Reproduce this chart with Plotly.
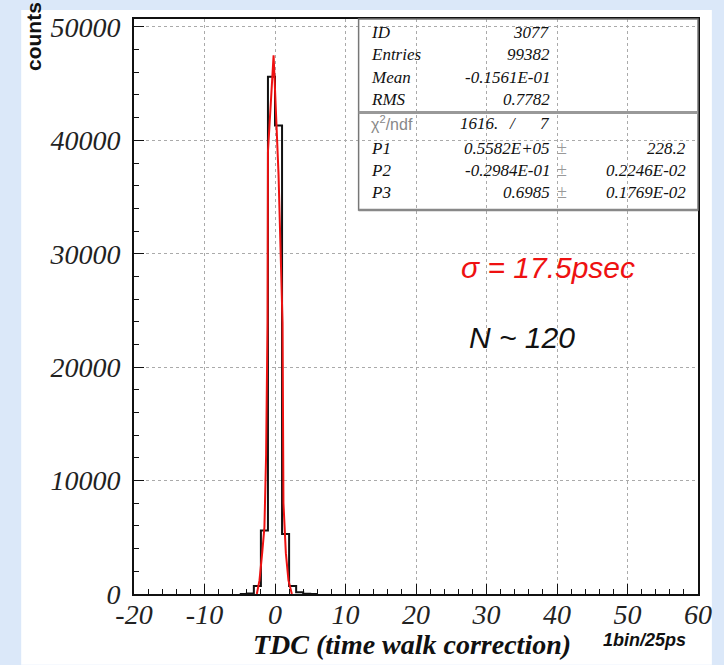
import plotly.graph_objects as go

# ---- histogram (1 bin = 25 ps) ----
bin_edges = [-5, -4, -3, -2, -1, 0, 1, 2, 3, 4, 5, 6]
bin_counts = [0, 50, 700, 5600, 45600, 41300, 5300, 700, 150, 30, 0]

# ---- fitted gaussian as drawn ----
fit_x = [-2.58, -2.2, -1.82, -1.5, -1.26, -1.06, -1.0, -0.2, 0.5, 1.07, 1.2, 1.54, 1.91, 2.39]
fit_y = [0, 1200, 3600, 5900, 12300, 23900, 39000, 47500, 37000, 23900, 8000, 3600, 1200, 0]

# ---- axis ticks ----
x_ticks = [-20, -10, 0, 10, 20, 30, 40, 50, 60]
x_tick_text = ["-20", "-10", "0", "10", "20", "30", "40", "50", "60"]
y_ticks = [0, 10000, 20000, 30000, 40000, 50000]
y_tick_text = ["0", "10000", "20000", "30000", "40000", "50000"]

# ---- statistics box ----
stat_labels = ["ID", "Entries", "Mean", "RMS"]
stat_values = ["3077", "99382", "-0.1561E-01", "0.7782"]
chi2_value = "1616."
ndf_value = "7"
fit_labels = ["P1", "P2", "P3"]
fit_values = ["0.5582E+05", "-0.2984E-01", "0.6985"]
fit_errors = ["228.2", "0.2246E-02", "0.1769E-02"]

W, H = 724, 665
ML, MR, MT, MB = 134, 20, 16, 71
PW, PH = W - ML - MR, H - MT - MB


def px(x):
    return (x - ML) / PW


def py(y):
    return (H - MB - y) / PH


serif = "Liberation Serif"
sans = "Liberation Sans"

fig = go.Figure()

step_y = bin_counts + [bin_counts[-1]]
fig.add_trace(go.Scatter(x=bin_edges, y=step_y, mode="lines", line_shape="hv",
                         line=dict(color="#111111", width=2), hoverinfo="skip"))
fig.add_trace(go.Scatter(x=fit_x, y=fit_y, mode="lines",
                         line=dict(color="#ee1111", width=2), hoverinfo="skip"))

shapes = [
    # white slide panel
    dict(type="rect", xref="paper", yref="paper", x0=px(20), x1=px(718), y0=py(665), y1=py(7),
         fillcolor="white", line=dict(width=0), layer="below"),
    # statistics box
    dict(type="rect", xref="paper", yref="paper", x0=px(361), x1=1.0, y0=py(208), y1=1.0,
         fillcolor="rgba(0,0,0,0)", line=dict(color="#777777", width=1.5)),
    dict(type="line", xref="paper", yref="paper", x0=px(361), x1=1.0, y0=py(208), y1=py(208),
         line=dict(color="#888888", width=2.5)),
    dict(type="line", xref="paper", yref="paper", x0=px(361), x1=1.0, y0=py(110), y1=py(110),
         line=dict(color="#999999", width=3)),
]

ann = []


def text(x, y, s, anchor="left", size=17, color="#111111", family=serif, style="italic", weight="normal", angle=0):
    ann.append(dict(x=px(x), y=py(y), xref="paper", yref="paper", text=s, showarrow=False,
                    xanchor=anchor, yanchor="middle", textangle=angle,
                    font=dict(family=family, size=size, color=color, style=style, weight=weight)))


rows = [30, 52, 75, 97]
for lab, val, yy in zip(stat_labels, stat_values, rows):
    text(372, yy, lab)
    text(556, yy, val, anchor="right")

text(372, 121, "χ<sup>2</sup>/ndf", color="#888888", family=sans, style="normal", size=16)
text(461, 121, chi2_value)
text(517, 121, "/", anchor="center")
text(556, 121, ndf_value, anchor="right")

for lab, val, err, yy in zip(fit_labels, fit_values, fit_errors, [146, 168, 190]):
    text(372, yy, lab)
    text(556, yy, val, anchor="right")
    text(567, yy, "±", anchor="center", color="#999999", style="normal", size=18)
    text(694, yy, err, anchor="right")

text(462, 266, "σ = 17.5psec", color="#ee1111", family=sans, size=30)
text(471, 336, "N ~ 120", color="#111111", family=sans, size=30)
text(415, 645, "TDC (time walk correction)", anchor="center", size=28, weight="bold")
text(650, 640, "1bin/25ps", anchor="center", size=18, family=sans, weight="bold")
text(33, 34, "counts", anchor="center", size=21, family=sans, style="normal", weight="bold", angle=-90)

axis_common = dict(showline=True, linecolor="#111111", linewidth=2, mirror=True,
                   ticks="inside", tickcolor="#111111", ticklen=10, tickwidth=1,
                   showgrid=True, gridcolor="#aaaaaa", griddash="dot", gridwidth=1,
                   zeroline=False,
                   tickfont=dict(family=serif, size=28, color="#222222", style="italic"))

fig.update_xaxes(range=[-20, 60], tickvals=x_ticks, ticktext=x_tick_text,
                 minor=dict(dtick=2, ticks="inside", ticklen=5, tickcolor="#111111", showgrid=False),
                 ticklabelstandoff=-6, **axis_common)
fig.update_yaxes(range=[0, 50700], tickvals=y_ticks, ticktext=y_tick_text,
                 minor=dict(dtick=2000, ticks="inside", ticklen=5, tickcolor="#111111", showgrid=False),
                 ticklabelstandoff=6, **axis_common)

fig.update_layout(width=W, height=H, margin=dict(l=ML, r=MR, t=MT, b=MB),
                  paper_bgcolor="#dbe8f9", plot_bgcolor="white", showlegend=False,
                  shapes=shapes, annotations=ann)

fig.write_html("out.html")
